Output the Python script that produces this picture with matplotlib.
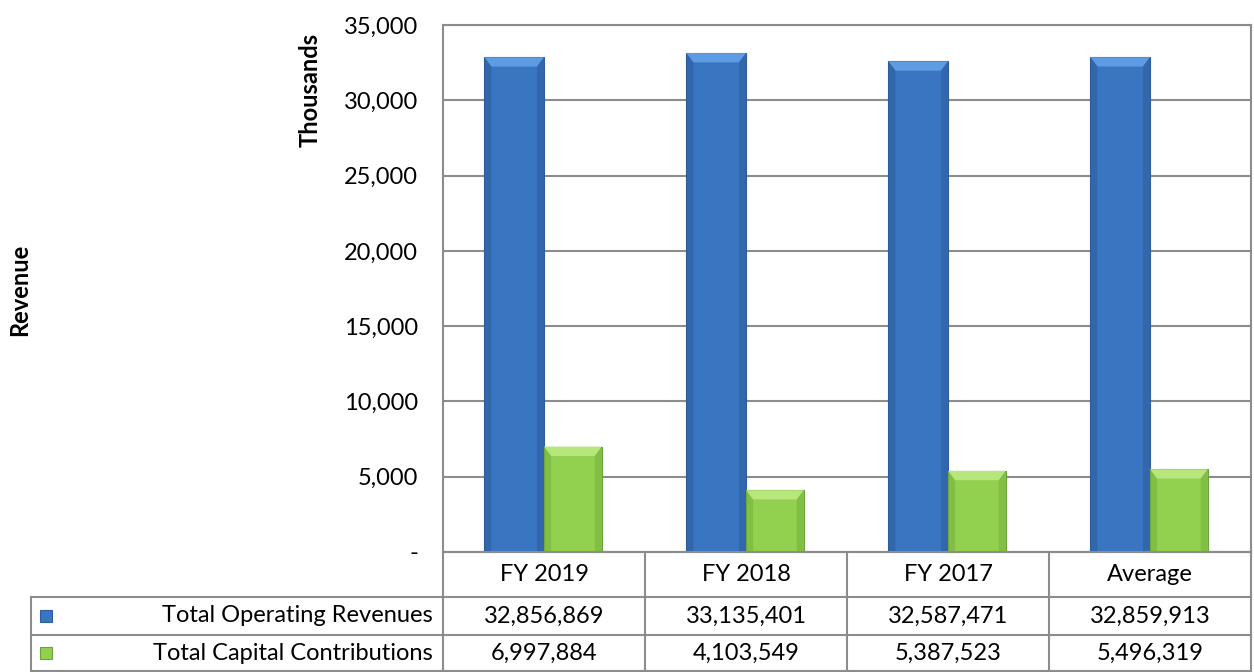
import matplotlib.pyplot as plt
from matplotlib.patches import Polygon
from matplotlib.lines import Line2D

plt.rcParams['font.family'] = ['Lato', 'DejaVu Sans']

categories = ['FY 2019', 'FY 2018', 'FY 2017', 'Average']
series = ['Total Operating Revenues', 'Total Capital Contributions']
operating = [32856869, 33135401, 32587471, 32859913]
capital = [6997884, 4103549, 5387523, 5496319]
yticks = [0, 5000, 10000, 15000, 20000, 25000, 30000, 35000]

W, H = 1254, 672
fig = plt.figure(figsize=(W / 100, H / 100), dpi=100)
L, R, T, B = 443, 1251, 25, 552
ax = fig.add_axes([L / W, 1 - B / H, (R - L) / W, (B - T) / H])

grid_c = '#8c8c8c'
fs = 17
colors = {
    'blue': dict(face='#3a75c2', top='#5d9be3', side='#2c5a96', edge='#2e5e9c'),
    'green': dict(face='#92d050', top='#b6e67c', side='#72ad3a', edge='#6aa33a'),
}


def bevel_bar(x, h, w, c):
    ax.bar(x, h, w, align='edge', color=c['face'], edgecolor=c['edge'], lw=0.8, zorder=3)
    dx, dy = 0.035, 620
    # top bevel and darker side strips
    ax.add_patch(Polygon([(x, h), (x + w, h), (x + w - dx, h - dy), (x + dx, h - dy)],
                         closed=True, fc=c['top'], ec='none', zorder=4))
    ax.add_patch(Polygon([(x, 0), (x, h), (x + dx, h - dy), (x + dx, 0)],
                         closed=True, fc=c['side'], ec='none', zorder=4, alpha=0.5))
    ax.add_patch(Polygon([(x + w, 0), (x + w, h), (x + w - dx, h - dy), (x + w - dx, 0)],
                         closed=True, fc=c['side'], ec='none', zorder=4, alpha=0.5))


bw = 0.295
for i in range(len(categories)):
    bevel_bar(i + 0.5 - bw, operating[i] / 1000, bw, colors['blue'])
    bevel_bar(i + 0.5, capital[i] / 1000, bw * 0.97, colors['green'])

ax.set_xlim(0, len(categories))
ax.set_ylim(0, 35000)
ax.set_yticks(yticks)
ax.set_yticklabels(['-' if v == 0 else f'{v:,}' for v in yticks], fontsize=fs)
ax.set_xticks([])
ax.tick_params(axis='y', length=0, pad=18)
ax.yaxis.grid(True, color=grid_c, lw=1.5, zorder=0)
for s in ax.spines.values():
    s.set_color(grid_c)
    s.set_linewidth(1.5)

fig.text(310 / W, 1 - 90 / H, 'Thousands', rotation=90, ha='center', va='center',
         fontsize=fs, fontweight='bold')
fig.text(20 / W, 1 - 290 / H, 'Revenue', rotation=90, ha='center', va='center',
         fontsize=fs, fontweight='bold')


# data table under the plot, in pixel coordinates
def fx(px):
    return px / W


def fy(py):
    return 1 - py / H


def hline(x0, x1, y):
    fig.add_artist(Line2D([fx(x0), fx(x1)], [fy(y), fy(y)], color=grid_c, lw=1.5))


def vline(x, y0, y1):
    fig.add_artist(Line2D([fx(x), fx(x)], [fy(y0), fy(y1)], color=grid_c, lw=1.5))


col_w = (R - L) / len(categories)
rows = [552, 597, 635, 671]
tab_left = 31
hline(L, R, rows[0])
hline(tab_left, R, rows[1])
hline(tab_left, R, rows[2])
hline(tab_left, R, rows[3])
vline(tab_left, rows[1], rows[3])
for j in range(len(categories) + 1):
    vline(L + j * col_w, rows[0], rows[3])

for j, cat in enumerate(categories):
    fig.text(fx(L + (j + 0.5) * col_w), fy((rows[0] + rows[1]) / 2), cat,
             ha='center', va='center', fontsize=fs)

for r, (name, vals, key) in enumerate(zip(series, [operating, capital], ['blue', 'green'])):
    yc = (rows[r + 1] + rows[r + 2]) / 2
    fig.text(fx(433), fy(yc), name, ha='right', va='center', fontsize=fs)
    fig.patches.append(plt.Rectangle((fx(40), fy(yc + 6)), 12 / W, 12 / H,
                                     transform=fig.transFigure, figure=fig,
                                     fc=colors[key]['face'], ec=colors[key]['edge'], lw=0.8))
    for j, v in enumerate(vals):
        fig.text(fx(L + (j + 0.5) * col_w), fy(yc), f'{v:,}', ha='center', va='center',
                 fontsize=fs)

fig.savefig('out.png', dpi=100)
